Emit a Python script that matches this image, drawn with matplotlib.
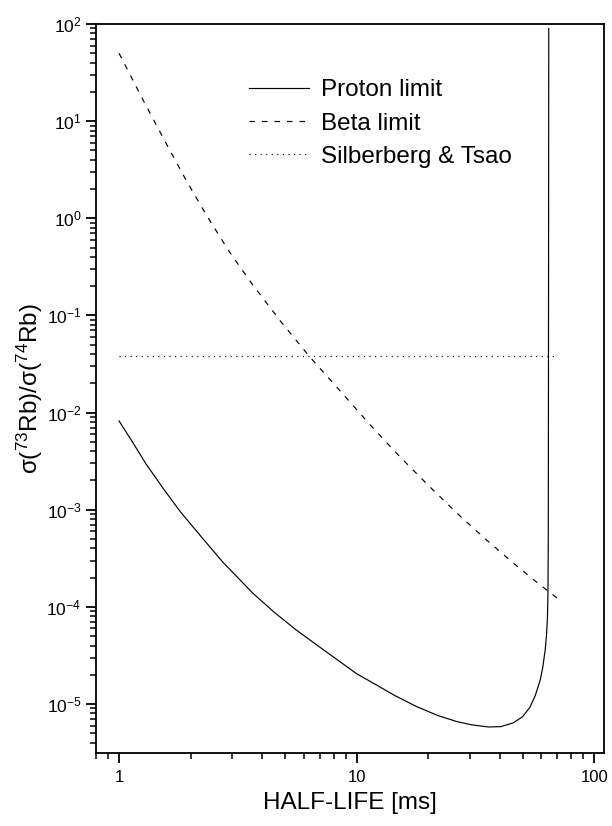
import numpy as np
import matplotlib
matplotlib.use('Agg')
import matplotlib.pyplot as plt
from matplotlib.ticker import LogLocator, NullFormatter

plt.rcParams['font.family'] = ['Liberation Sans', 'DejaVu Sans']
plt.rcParams['mathtext.fontset'] = 'custom'
plt.rcParams['mathtext.rm'] = 'Liberation Sans'
plt.rcParams['mathtext.it'] = 'Liberation Sans:italic'
plt.rcParams['mathtext.default'] = 'regular'
plt.rcParams['lines.scale_dashes'] = False

# values (half-life in ms, cross-section ratio)
proton_t = [1.0, 1.15, 1.3, 1.55, 1.82, 2.2, 2.73, 3.66, 4.5, 5.56, 7.0, 8.52,
            10.0, 11.8, 14.5, 17.9, 22.0, 26.4, 30.5, 35.9, 40.5, 45.7, 50.0,
            53.7, 56.5, 59.3, 60.8, 62.2, 63.0, 63.6, 63.9, 64.1, 64.2, 64.3, 64.4]
proton_r = [8.2e-3, 4.8e-3, 2.95e-3, 1.6e-3, 9.4e-4, 5.4e-4, 2.9e-4, 1.38e-4,
            8.8e-5, 5.8e-5, 3.85e-5, 2.72e-5, 2.05e-5, 1.63e-5, 1.22e-5, 9.4e-6,
            7.6e-6, 6.6e-6, 6.1e-6, 5.8e-6, 5.85e-6, 6.4e-6, 7.4e-6, 9.3e-6,
            1.22e-5, 1.77e-5, 2.4e-5, 3.6e-5, 5.1e-5, 7.9e-5, 1.4e-4, 5e-4,
            1e-2, 1.0, 90.0]

beta_t = [1.0, 1.25, 1.53, 1.9, 2.32, 2.9, 3.66, 4.8, 6.33, 8.95, 11.5, 15.2,
          20.0, 26.4, 35.0, 45.8, 58.0, 73.1]
beta_r = [50.0, 17.3, 6.8, 2.56, 1.1, 0.46, 0.205, 0.0863, 0.0378, 0.0146,
          7.3e-3, 3.52e-3, 1.79e-3, 9.25e-4, 4.95e-4, 2.81e-4, 1.75e-4, 1.13e-4]

st_t = [1.0, 70.0]
st_r = [0.0385, 0.0385]

x_ticks = [1, 10, 100]
x_ticklabels = ['1', '10', '100']
y_exps = [-5, -4, -3, -2, -1, 0, 1, 2]

fig = plt.figure(figsize=(6.12, 8.26), dpi=100)
ax = fig.add_axes([96/612, 73/826, 508/612, 729/826])

ax.plot(proton_t, proton_r, color='black', lw=0.85, label='Proton limit')
ax.plot(beta_t, beta_r, color='black', lw=0.85, dashes=(4, 5), label='Beta limit')
ax.plot(st_t, st_r, color='black', lw=0.85, dashes=(0.8, 3.2), label='Silberberg & Tsao')

ax.set_xscale('log')
ax.set_yscale('log')
ax.set_xlim(0.80, 110)
ax.set_ylim(3.13e-6, 100)

ax.xaxis.set_minor_locator(LogLocator(base=10, subs=np.arange(2, 10), numticks=50))
ax.yaxis.set_minor_locator(LogLocator(base=10, subs=np.arange(2, 10), numticks=50))
ax.xaxis.set_minor_formatter(NullFormatter())
ax.yaxis.set_minor_formatter(NullFormatter())
ax.set_xticks(x_ticks)
ax.set_xticklabels(x_ticklabels)
ax.set_yticks([10.0**e for e in y_exps])
ax.set_yticklabels(['$10^{%d}$' % e for e in y_exps])

ax.tick_params(which='both', direction='out', top=False, right=False)
ax.tick_params(axis='y', labelsize=12.5, pad=3.5)
ax.tick_params(axis='x', labelsize=12, pad=5)
ax.tick_params(which='major', length=7, width=1.3)
ax.tick_params(which='minor', length=4.5, width=1.1)
for s in ax.spines.values():
    s.set_linewidth(1.3)

ax.set_xlabel('HALF-LIFE [ms]', fontsize=17.5, labelpad=5)
ax.set_ylabel('σ($^{73}$Rb)/σ($^{74}$Rb)', fontsize=17.5, labelpad=1)

leg = ax.legend(loc='upper left', bbox_to_anchor=(0.302, 0.924), frameon=False,
                fontsize=17.5, handlelength=2.45, handletextpad=0.5,
                labelspacing=0.46, borderpad=0, borderaxespad=0)

fig.savefig('out.png', dpi=100)
